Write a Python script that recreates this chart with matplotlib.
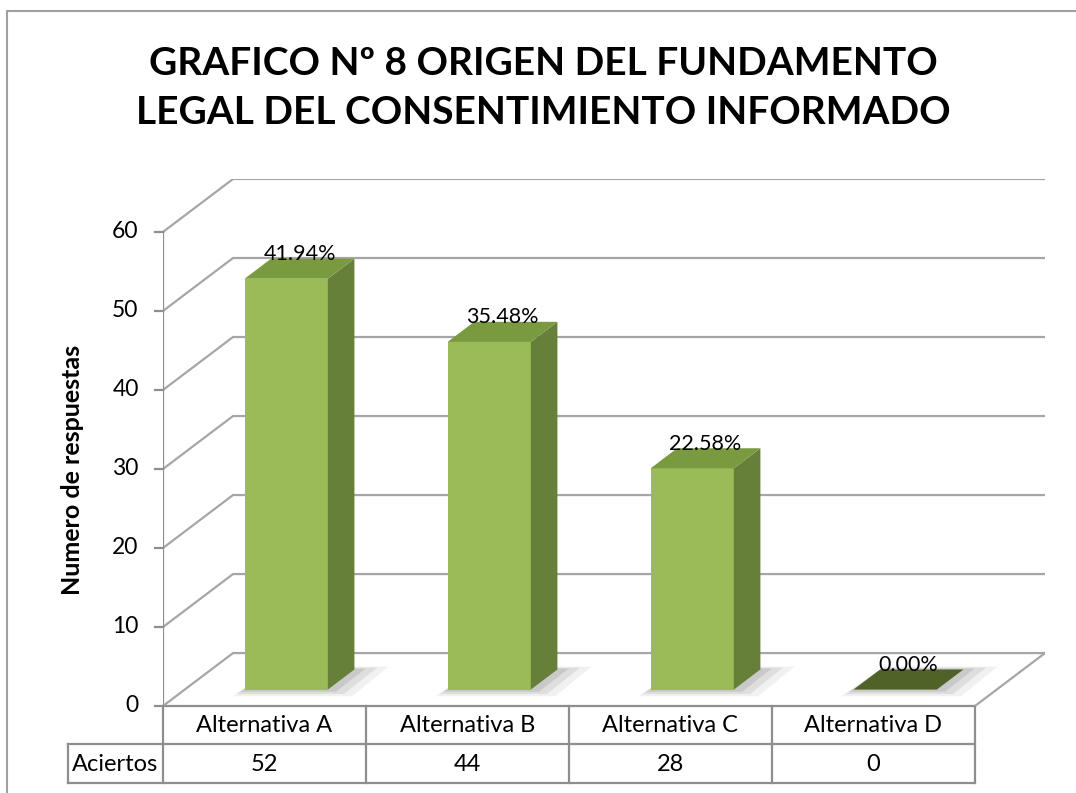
import matplotlib
matplotlib.use("Agg")
import matplotlib.pyplot as plt
from matplotlib.patches import Polygon
from matplotlib.transforms import blended_transform_factory

# data
categorias = ["Alternativa A", "Alternativa B", "Alternativa C", "Alternativa D"]
aciertos = [52, 44, 28, 0]
porcentajes = ["41.94%", "35.48%", "22.58%", "0.00%"]
y_ticks = [0, 10, 20, 30, 40, 50, 60]
fila = "Aciertos"
titulo = "GRAFICO Nº 8 ORIGEN DEL FUNDAMENTO\nLEGAL DEL CONSENTIMIENTO INFORMADO"
ylabel = "Numero de respuestas"

plt.rcParams["font.family"] = ["Lato", "DejaVu Sans"]

W, H = 1076, 793
fig = plt.figure(figsize=(W / 100, H / 100), dpi=100)

# full-figure pixel axes for frame, title and table borders
bg = fig.add_axes([0, 0, 1, 1])
bg.set_xlim(0, W)
bg.set_ylim(H, 0)
bg.axis("off")

# fake 3d projection
DX = 0.345   # depth shift, category units
DY = 6.7     # depth shift, value units
F0, F1 = 0.31, 0.69   # bar front / back depth
BW = 0.41             # bar width

n = len(categorias)
x0px, ybot, ytop = 163, 706, 179
x1px = x0px + n * 203 + 70
ax = fig.add_axes([x0px / W, (H - ybot) / H, (x1px - x0px) / W, (ybot - ytop) / H])
ax.set_xlim(0, n + DX)
ax.set_ylim(0, y_ticks[-1] + DY)
ax.axis("off")

grid_c = "#A6A6A6"
line_c = "#8E8E8E"

# walls / gridlines
for v in y_ticks:
    ax.plot([0, DX, n + DX], [v, v + DY, v + DY], color=grid_c, lw=1.6,
            solid_joinstyle="miter", zorder=1)
    ax.plot([-0.04, 0], [v, v], color=line_c, lw=1.6, clip_on=False, zorder=2)
    ax.text(-0.12, v, str(v), ha="right", va="center", fontsize=16.5, clip_on=False)
ax.plot([n, n + DX], [0, DY], color=grid_c, lw=1.6, zorder=1)
ax.plot([0, 0], [0, y_ticks[-1]], color=line_c, lw=1.6, zorder=2)

# bars
front_c, side_c, top_c, flat_c = "#9BBB59", "#66803A", "#7A9A40", "#4F6228"
d = F1 - F0
for i, v in enumerate(aciertos):
    xl = i + 0.5 - BW / 2 + F0 * DX
    yb = F0 * DY
    # soft shadow
    for k, a in zip([0.12, 0.08, 0.04], [0.10, 0.16, 0.22]):
        sh = [(xl - k * 0.5, yb - k * 7), (xl + BW + k, yb - k * 7),
              (xl + BW + d * DX + k * 1.4, yb + d * DY + k * 3),
              (xl + d * DX + k * 0.2, yb + d * DY + k * 3)]
        ax.add_patch(Polygon(sh, closed=True, fc="#7F7F7F", ec="none", alpha=a, zorder=3))
    if v > 0:
        ax.add_patch(Polygon([(xl, yb), (xl + BW, yb), (xl + BW, yb + v), (xl, yb + v)],
                             fc=front_c, ec="none", zorder=4))
        ax.add_patch(Polygon([(xl + BW, yb), (xl + BW + d * DX, yb + d * DY),
                              (xl + BW + d * DX, yb + v + d * DY), (xl + BW, yb + v)],
                             fc=side_c, ec="none", zorder=4))
    ax.add_patch(Polygon([(xl, yb + v), (xl + BW, yb + v),
                          (xl + BW + d * DX, yb + v + d * DY), (xl + d * DX, yb + v + d * DY)],
                         fc=top_c if v > 0 else flat_c, ec="none", zorder=4))
    ax.text(i + 0.5 + 0.5 * DX, v + F1 * DY + 0.6, porcentajes[i], ha="center", va="center",
            fontsize=15.5, zorder=5, clip_on=False)

# data table under the floor
tr = blended_transform_factory(ax.transData, bg.transData)
r0, r1, r2 = 706, 744, 783
xlab = (68 - x0px) / 203
bg.plot([0, n], [r0, r0], color=line_c, lw=1.6, transform=tr)
for yy in (r1, r2):
    bg.plot([xlab, n], [yy, yy], color=line_c, lw=1.6, transform=tr)
bg.plot([xlab, xlab], [r1, r2], color=line_c, lw=1.6, transform=tr)
for j in range(n + 1):
    bg.plot([j, j], [r0, r2], color=line_c, lw=1.6, transform=tr)
for j, (c, v) in enumerate(zip(categorias, aciertos)):
    bg.text(j + 0.5, (r0 + r1) / 2 + 1, c, ha="center", va="center", fontsize=17, transform=tr)
    bg.text(j + 0.5, (r1 + r2) / 2 + 1, str(v), ha="center", va="center", fontsize=17, transform=tr)
bg.text(xlab / 2, (r1 + r2) / 2 + 1, fila, ha="center", va="center", fontsize=17, transform=tr)

# y label
bg.text(73, 470, ylabel, rotation=90, ha="center", va="center", fontsize=18, fontweight="bold")

# title
bg.text(543, 88, titulo, ha="center", va="center", fontsize=28, fontweight="bold",
        linespacing=1.49)

# outer frame
bg.plot([7, 7, W + 5], [H + 5, 11, 11], color="#A0A0A0", lw=1.5, clip_on=False)

fig.savefig("out.png", dpi=100)
